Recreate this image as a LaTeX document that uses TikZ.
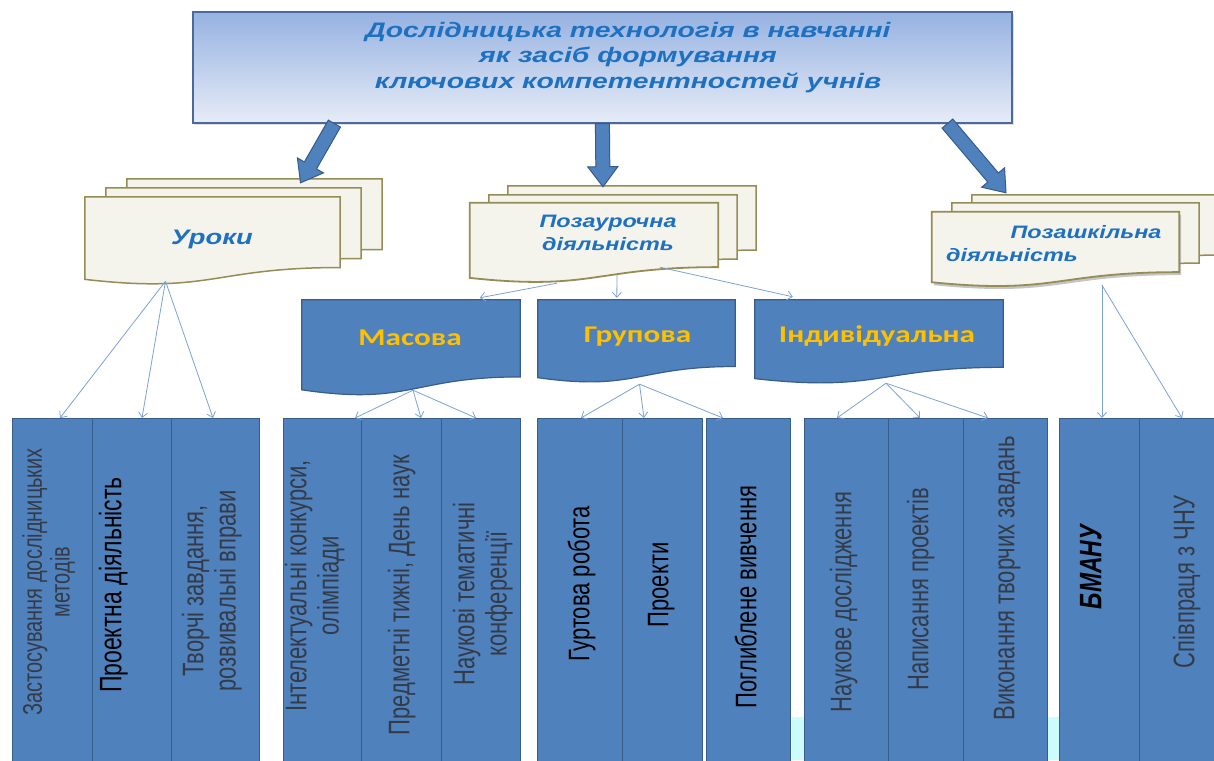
\documentclass[tikz,border=0pt]{standalone}
\usepackage{fontspec}
\usepackage{graphicx}
\setmainfont{Liberation Sans}
\newfontfamily\calfont{Carlito}
\usetikzlibrary{calc,arrows.meta,shadows}

\definecolor{titleblue}{RGB}{30,112,192}
\definecolor{boxtop}{RGB}{150,178,225}
\definecolor{boxbot}{RGB}{230,236,247}
\definecolor{boxline}{RGB}{75,105,155}
\definecolor{arrowfill}{RGB}{79,129,189}
\definecolor{arrowline}{RGB}{55,90,140}
\definecolor{docfill}{RGB}{244,243,236}
\definecolor{docline}{RGB}{150,140,85}
\definecolor{colfill}{RGB}{79,129,189}
\definecolor{colline}{RGB}{56,93,138}
\definecolor{gold}{RGB}{255,192,0}
\definecolor{linkblue}{RGB}{125,163,212}
\definecolor{greytext}{RGB}{52,58,70}
\definecolor{cyanbg}{RGB}{204,252,252}

% vertical text (reads bottom to top), glyphs widened across the column
\newcommand\rot[1]{\rotatebox{90}{\scalebox{1}[1.35]{\begin{tabular}{@{}c@{}}#1\end{tabular}}}}
% horizontally widened text
\newcommand\wide[2][1.3]{\scalebox{#1}[1]{\begin{tabular}{@{}c@{}}#2\end{tabular}}}

% document sheet with a wavy lower edge, drawn over the box of a node
\newcommand\docpath[2]{\path[#1] (#2.north west) -- (#2.north east)
  -- ($(#2.north east)!0.8!(#2.south east)$)
  .. controls ($(#2.north)!0.8!(#2.south)$) and ($(#2.north)!1.1!(#2.south)$)
  .. ($(#2.north west)!0.934!(#2.south west)$) -- cycle;}

% thick outlined block arrow from #1 to #2
\newcommand\blockarrow[2]{%
  \coordinate (neck) at ($(#2)!20pt!(#1)$);
  \path[barrow] ($(#1)!7pt!90:(#2)$) -- ($(neck)!7pt!-90:(#1)$)
    -- ($(neck)!15pt!-90:(#1)$) -- (#2) -- ($(neck)!15pt!90:(#1)$)
    -- ($(neck)!7pt!90:(#1)$) -- ($(#1)!7pt!-90:(#2)$) -- cycle;}

\begin{document}
\begin{tikzpicture}[x=1pt,y=-1pt,
  titlebox/.style={rectangle, draw=boxline, line width=1.2pt, top color=boxtop,
    bottom color=boxbot, minimum width=819pt, minimum height=111pt, inner sep=0pt},
  titletext/.style={inner sep=0pt, text=titleblue,
    font=\fontsize{21}{25.5}\selectfont\bfseries\itshape},
  sheet/.style={rectangle, inner sep=0pt, draw=none},
  docfront/.style={fill=docfill, draw=docline, line width=1.5pt},
  bluedoc/.style={fill=colfill, draw=colline, line width=1.2pt},
  doctext/.style={inner sep=0pt, text=titleblue,
    font=\fontsize{18}{23}\selectfont\bfseries\itshape},
  goldtext/.style={inner sep=0pt, text=gold,
    font=\calfont\bfseries\fontsize{24}{28}\selectfont},
  col/.style={rectangle, draw=colline, fill=colfill, line width=1.2pt,
    inner sep=0pt, anchor=north west, minimum height=357pt},
  coltext/.style={inner sep=0pt, text=greytext, font=\fontsize{22}{24}\selectfont},
  link/.style={draw=linkblue, line width=0.8pt, -{Straight Barb[length=5pt,width=9pt]}},
  barrow/.style={fill=arrowfill, draw=arrowline, line width=1pt, line join=miter}]

\clip (0,0) rectangle (1214,760);
\fill[white] (0,0) rectangle (1214,760);
\fill[cyanbg] (792,717) rectangle (1060,760);

% title
\node[titlebox, drop shadow={opacity=0.25,shadow xshift=2pt,shadow yshift=-2pt}]
  (title) at (602.5,67.5) {};
\node[titletext] (titlet) at (628,57.5)
  {\wide[1.35]{Дослідницька технологія в навчанні\\як засіб формування\\ключових компетентностей учнів}};

% Уроки
\node[sheet, minimum width=255pt, minimum height=88pt] (uroki3) at (254.5,223) {};
\node[sheet, minimum width=255pt, minimum height=88pt] (uroki2) at (233.5,232) {};
\node[sheet, minimum width=255pt, minimum height=88pt] (uroki) at (212.5,241) {};
\docpath{docfront}{uroki3}
\docpath{docfront}{uroki2}
\docpath{docfront}{uroki}
\node[doctext, font=\fontsize{21}{24}\selectfont\bfseries\itshape] (urokit) at (212,240) {\wide{Уроки}};

% Позаурочна діяльність
\node[sheet, minimum width=248pt, minimum height=80pt] (pz3) at (632,226) {};
\node[sheet, minimum width=248pt, minimum height=80pt] (pz2) at (613,235) {};
\node[sheet, minimum width=248pt, minimum height=80pt] (pz) at (594,243) {};
\docpath{docfront}{pz3}
\docpath{docfront}{pz2}
\docpath{docfront, line width=1.8pt}{pz}
\node[doctext] (pzt) at (608,234) {\wide{Позаурочна\\діяльність}};

% Позашкільна діяльність
\node[sheet, minimum width=247pt, minimum height=75pt] (ps3) at (1095.5,232.5) {};
\node[sheet, minimum width=247pt, minimum height=75pt] (ps2) at (1075.5,240.5) {};
\node[sheet, minimum width=247pt, minimum height=75pt] (ps) at (1055.5,249.5) {};
\docpath{docfront}{ps3}
\docpath{docfront}{ps2}
\docpath{docfront, line width=1.8pt, drop shadow={opacity=0.45,shadow xshift=2pt,shadow yshift=-3pt}}{ps}
\node[doctext] (psta) at (1086,234) {\wide{Позашкільна}};
\node[doctext] (pstb) at (1012,257) {\wide{діяльність}};

% block arrows from the title
\coordinate (a1s) at ($(title.south west)+(142,0)$);
\coordinate (a1e) at ($(uroki3.north)+(46,4)$);
\blockarrow{a1s}{a1e}
\coordinate (a2s) at ($(title.south west)+(410,0)$);
\coordinate (a2e) at ($(pz3.north)+(-29,1)$);
\blockarrow{a2s}{a2e}
\coordinate (a3s) at ($(title.south west)+(755,0)$);
\coordinate (a3e) at ($(ps3.north)+(-89.5,-2)$);
\blockarrow{a3s}{a3e}

% forms of out-of-class work
\node[sheet, minimum width=218pt, minimum height=96pt] (masova) at (411,348) {};
\node[sheet, minimum width=197pt, minimum height=83pt] (grupova) at (636.5,341.5) {};
\node[sheet, minimum width=248pt, minimum height=84pt] (indiv) at (879,342) {};
\docpath{bluedoc}{masova}
\docpath{bluedoc}{grupova}
\docpath{bluedoc}{indiv}
\node[goldtext] (masovat) at (410,340) {\wide{Масова}};
\node[goldtext] (grupovat) at (637.5,337) {\wide{Групова}};
\node[goldtext] (indivt) at (877,337) {\wide{Індивідуальна}};

% columns
\node[col, minimum width=80pt] (c11) at (12,418) {};
\node[col, minimum width=79pt] (c12) at (92,418) {};
\node[col, minimum width=88pt] (c13) at (171,418) {};
\node[col, minimum width=78pt] (c21) at (283,418) {};
\node[col, minimum width=80pt] (c22) at (361,418) {};
\node[col, minimum width=79pt] (c23) at (441,418) {};
\node[col, minimum width=85pt] (c31) at (537,418) {};
\node[col, minimum width=80pt] (c32) at (622,418) {};
\node[col, minimum width=84pt] (c33) at (706,418) {};
\node[col, minimum width=84pt] (c41) at (804,418) {};
\node[col, minimum width=75pt] (c42) at (888,418) {};
\node[col, minimum width=84pt] (c43) at (963,418) {};
\node[col, minimum width=80pt] (c51) at (1059,418) {};
\node[col, minimum width=90pt] (c52) at (1139,418) {};

\node[coltext, font=\fontsize{20}{20}\selectfont] (t11) at (50,582) {\rot{Застосування дослідницьких\\методів}};
\node[coltext, text=black, font=\fontsize{23}{24}\selectfont] (t12) at (115,585) {\rot{Проектна діяльність}};
\node[coltext] (t13) at (213,591) {\rot{Творчі завдання,\\розвивальні вправи}};
\node[coltext] (t21) at (316,586) {\rot{Інтелектуальні конкурси,\\олімпіади}};
\node[coltext] (t22) at (403,595) {\rot{Предметні тижні, День наук}};
\node[coltext] (t23) at (484,594) {\rot{Наукові тематичні\\конференції}};
\node[coltext, text=black] (t31) at (583,584) {\rot{Гуртова робота}};
\node[coltext, text=black] (t32) at (662,585) {\rot{Проекти}};
\node[coltext, text=black] (t33) at (750,597) {\rot{Поглиблене вивчення}};
\node[coltext] (t41) at (845,602) {\rot{Наукове дослідження}};
\node[coltext] (t42) at (922,589) {\rot{Написання проектів}};
\node[coltext] (t43) at (1008,578) {\rot{Виконання творчих завдань}};
\node[coltext, text=black, font=\fontsize{23}{24}\selectfont\bfseries\itshape] (t51) at (1095,567) {\rot{БМАНУ}};
\node[coltext] (t52) at (1188,582) {\rot{Співпраця з ЧНУ}};

% thin connectors
\coordinate (uo) at ($(uroki.south)+(-47,-4)$);
\draw[link] (uo) -- ($(c11.north west)+(48,0)$);
\draw[link] (uo) -- ($(c12.north west)+(50,0)$);
\draw[link] (uo) -- ($(c13.north west)+(42,0)$);

\draw[link] ($(pz.south)+(-37,0)$) -- ($(masova.north west)+(178,-2)$);
\draw[link] ($(pz.south)+(23,-8)$) -- ($(grupova.north west)+(79,-2)$);
\draw[link] ($(pz.south)+(66,-16)$) -- ($(indiv.north west)+(38,-3)$);

\coordinate (mo) at ($(masova.south)+(2,-6)$);
\draw[link] (mo) -- ($(c21.north west)+(72,0)$);
\draw[link] (mo) -- ($(c22.north west)+(60,0)$);
\draw[link] (mo) -- ($(c23.north west)+(35,0)$);

\coordinate (go) at ($(grupova.south)+(3,1)$);
\draw[link] (go) -- ($(c31.north west)+(44,0)$);
\draw[link] (go) -- ($(c32.north west)+(22,0)$);
\draw[link] (go) -- ($(c33.north west)+(17,0)$);

\coordinate (io) at ($(indiv.south)+(7,-1)$);
\draw[link] (io) -- ($(c41.north west)+(33,0)$);
\draw[link] (io) -- ($(c42.north west)+(32,0)$);
\draw[link] (io) -- ($(c43.north west)+(25,0)$);

\coordinate (po) at ($(ps.south)+(46.5,-2)$);
\draw[link] (po) -- ($(c51.north west)+(43,0)$);
\draw[link] (po) -- ($(c52.north west)+(43,0)$);
\end{tikzpicture}
\end{document}
